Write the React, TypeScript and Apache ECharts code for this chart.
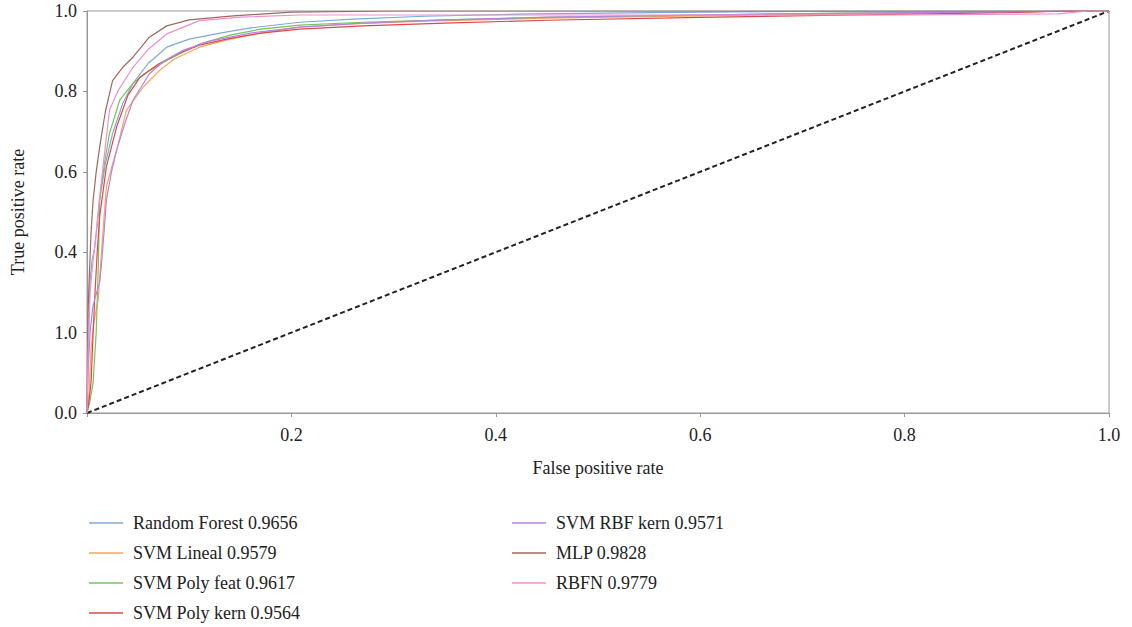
import React, { useEffect, useRef } from "react";
import * as echarts from "echarts";

const xTickLabels = ["", "0.2", "0.4", "0.6", "0.8", "1.0"];
const yTickLabels = ["0.0", "1.0", "0.4", "0.6", "0.8", "1.0"];

const seriesNames = [
  "Random Forest 0.9656",
  "SVM Lineal 0.9579",
  "SVM Poly feat 0.9617",
  "SVM Poly kern 0.9564",
  "SVM RBF kern 0.9571",
  "MLP 0.9828",
  "RBFN 0.9779",
];
const seriesColors = ["#7fa9d8", "#f7a35c", "#72c65a", "#e0464a", "#b584e0", "#9c6a5c", "#ef8fcf"];

const randomForest = [[0,0],[0.001,0.12],[0.002,0.25],[0.003,0.33],[0.005,0.38],[0.0075,0.41],[0.01,0.47],[0.0124,0.53],[0.018,0.62],[0.025,0.695],[0.035,0.77],[0.045,0.82],[0.06,0.87],[0.078,0.91],[0.1,0.93],[0.13,0.945],[0.16,0.958],[0.208,0.972],[0.26,0.98],[0.33,0.987],[0.42,0.992],[0.55,0.996],[0.7,0.999],[0.85,1],[1,1]];
const svmLineal = [[0,0],[0.002,0.05],[0.004,0.16],[0.007,0.23],[0.011,0.283],[0.015,0.43],[0.019,0.563],[0.024,0.61],[0.029,0.654],[0.0385,0.753],[0.055,0.811],[0.07,0.85],[0.085,0.88],[0.11,0.91],[0.14,0.93],[0.17,0.945],[0.208,0.96],[0.26,0.968],[0.33,0.975],[0.45,0.982],[0.6,0.988],[0.75,0.993],[0.9,0.997],[0.96,1],[1,1]];
const svmPolyFeat = [[0,0],[0.003,0.03],[0.006,0.077],[0.009,0.2],[0.011,0.36],[0.0124,0.53],[0.017,0.62],[0.022,0.696],[0.032,0.778],[0.045,0.82],[0.06,0.85],[0.078,0.877],[0.11,0.918],[0.14,0.94],[0.17,0.955],[0.208,0.965],[0.27,0.972],[0.35,0.978],[0.45,0.984],[0.6,0.99],[0.75,0.995],[0.9,0.998],[1,1]];
const svmPolyKern = [[0,0],[0.002,0.03],[0.004,0.077],[0.006,0.2],[0.0075,0.283],[0.01,0.4],[0.0124,0.489],[0.019,0.613],[0.029,0.712],[0.04,0.79],[0.052,0.836],[0.07,0.868],[0.09,0.895],[0.11,0.915],[0.14,0.932],[0.17,0.945],[0.208,0.955],[0.27,0.963],[0.35,0.97],[0.45,0.977],[0.6,0.984],[0.75,0.99],[0.9,0.996],[0.96,1],[1,1]];
const svmRbfKern = [[0,0],[0.001,0.1],[0.003,0.2],[0.0055,0.26],[0.0075,0.283],[0.0124,0.325],[0.014,0.365],[0.017,0.46],[0.019,0.53],[0.024,0.6],[0.029,0.654],[0.037,0.72],[0.045,0.778],[0.061,0.844],[0.075,0.875],[0.094,0.902],[0.12,0.925],[0.16,0.945],[0.208,0.96],[0.27,0.97],[0.35,0.978],[0.45,0.985],[0.6,0.99],[0.75,0.995],[0.9,0.998],[1,1]];
const mlp = [[0,0],[0.0005,0.15],[0.001,0.25],[0.002,0.325],[0.004,0.45],[0.006,0.53],[0.009,0.6],[0.0124,0.662],[0.018,0.75],[0.025,0.827],[0.035,0.86],[0.045,0.885],[0.061,0.935],[0.078,0.963],[0.1,0.978],[0.143,0.988],[0.2,0.997],[0.3,1],[1,1]];
const rbfn = [[0,0],[0.001,0.15],[0.003,0.3],[0.006,0.38],[0.009,0.448],[0.012,0.53],[0.0157,0.613],[0.022,0.753],[0.03,0.8],[0.045,0.86],[0.06,0.905],[0.078,0.943],[0.11,0.976],[0.15,0.985],[0.208,0.99],[0.4,0.99],[0.6,0.99],[0.8,0.99],[0.95,0.993],[0.98,1],[1,1]];
const chanceLine = [[0,0],[1,1]];

const curves = [randomForest, svmLineal, svmPolyFeat, svmPolyKern, svmRbfKern, mlp, rbfn];

const FONT = "Liberation Serif";

export default function App() {
  const ref = useRef<HTMLDivElement>(null);
  useEffect(() => {
    if (!ref.current) return;
    const chart = echarts.init(ref.current, undefined, { renderer: "svg" });
    const legendText = { fontFamily: FONT, fontSize: 18, color: "#222", lineHeight: 18, padding: [0, 0, 0, 5] };
    const legendBase = {
      orient: "vertical", top: 509, height: 118, icon: "rect",
      itemWidth: 34, itemHeight: 1.5, itemGap: 12, textStyle: legendText,
    };
    const option: any = {
      animation: false,
      backgroundColor: "#fff",
      grid: { left: 87, right: 23, top: 11, bottom: 214, show: true, borderColor: "#999", borderWidth: 1, backgroundColor: "transparent" },
      xAxis: {
        type: "value", min: 0, max: 1, interval: 0.2,
        splitLine: { show: false },
        axisLine: { show: true, lineStyle: { color: "#999", width: 1 } },
        axisTick: { show: true, length: 4, lineStyle: { color: "#999" } },
        axisLabel: {
          fontFamily: FONT, fontSize: 18, color: "#222", margin: 13,
          formatter: (v: number) => xTickLabels[Math.round(v / 0.2)] ?? "",
        },
        name: "False positive rate", nameLocation: "middle", nameGap: 46,
        nameTextStyle: { fontFamily: FONT, fontSize: 18, color: "#222" },
      },
      yAxis: {
        type: "value", min: 0, max: 1, interval: 0.2,
        splitLine: { show: false },
        axisLine: { show: true, lineStyle: { color: "#999", width: 1 } },
        axisTick: { show: true, length: 4, lineStyle: { color: "#999" } },
        axisLabel: {
          fontFamily: FONT, fontSize: 18, color: "#222", margin: 10,
          formatter: (v: number) => yTickLabels[Math.round(v / 0.2)] ?? "",
        },
        name: "True positive rate", nameLocation: "middle", nameGap: 60,
        nameTextStyle: { fontFamily: FONT, fontSize: 18, color: "#222" },
      },
      legend: [
        { ...legendBase, data: seriesNames.slice(0, 4), left: 84 },
        { ...legendBase, data: seriesNames.slice(4), left: 507 },
      ],
      series: [
        ...curves.map((d, i) => ({
          name: seriesNames[i], type: "line", data: d, symbol: "none", showSymbol: false,
          lineStyle: { color: seriesColors[i], width: 1.2 }, itemStyle: { color: seriesColors[i] },
          z: 3,
        })),
        {
          name: "chance", type: "line", data: chanceLine, symbol: "none",
          lineStyle: { color: "#222", width: 2, type: [5, 3] }, z: 2,
        },
      ],
    };
    chart.setOption(option);
    return () => chart.dispose();
  }, []);
  return <div ref={ref} style={{ width: 1132, height: 627, position: "absolute", left: 0, top: 0 }} />;
}
